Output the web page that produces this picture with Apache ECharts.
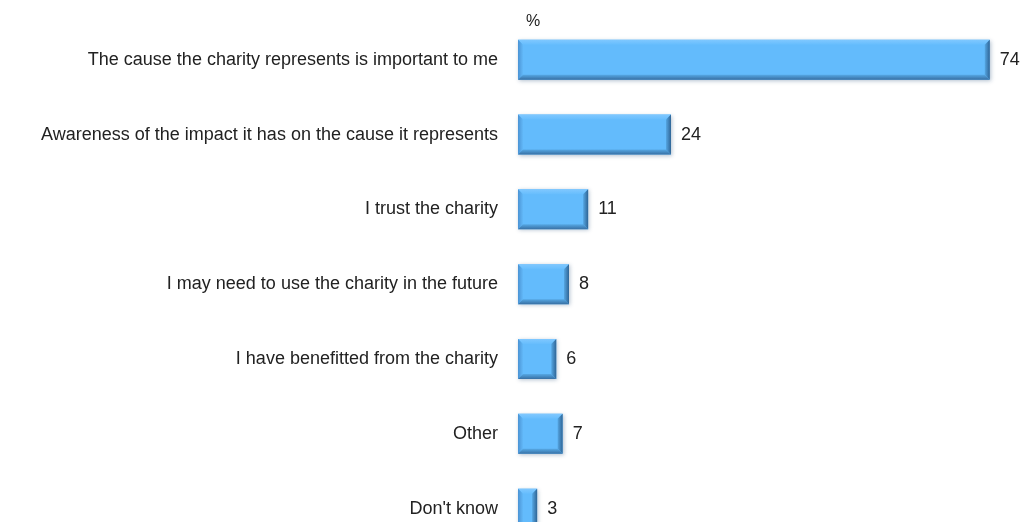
<!DOCTYPE html>
<html>
<head>
<meta charset="utf-8">
<style>
  html, body { margin: 0; padding: 0; background: #ffffff; }
  #chart { width: 1020px; height: 522px; }
</style>
<script src="https://cdn.jsdelivr.net/npm/echarts@6/dist/echarts.min.js"></script>
</head>
<body>
<div id="chart"></div>
<script>
// Reasons for supporting a charity (% of respondents)
var categories = [
  'The cause the charity represents is important to me',
  'Awareness of the impact it has on the cause it represents',
  'I trust the charity',
  'I may need to use the charity in the future',
  'I have benefitted from the charity',
  'Other',
  "Don't know"
];
var values = [74, 24, 11, 8, 6, 7, 3];
var unitLabel = '%';

var FONT = '"Liberation Sans", Arial, Helvetica, sans-serif';
var FILL = '#63bbfc';

// Bevelled bar: flat face plus four edge facets
function renderBevelBar(params, api) {
  var idx = api.value(0);
  var val = api.value(1);
  var start = api.coord([0, idx]);
  var end = api.coord([val, idx]);
  var h = 40;
  var x0 = start[0], x1 = end[0];
  var y0 = end[1] - h / 2, y1 = end[1] + h / 2;
  var w = x1 - x0;
  var b = Math.min(5, w / 2, h / 2);

  function grad(x, y, x2, y2, c0, c1) {
    return new echarts.graphic.LinearGradient(x, y, x2, y2, [
      { offset: 0, color: c0 }, { offset: 1, color: c1 }
    ]);
  }

  return {
    type: 'group',
    children: [
      {
        type: 'rect',
        shape: { x: x0, y: y0, width: w, height: h },
        style: {
          fill: FILL,
          shadowBlur: 4,
          shadowColor: 'rgba(40,80,120,0.35)',
          shadowOffsetX: 1,
          shadowOffsetY: 1
        }
      },
      {
        // top facet
        type: 'polygon',
        shape: { points: [[x0, y0], [x1, y0], [x1 - b, y0 + b], [x0 + b, y0 + b]] },
        style: { fill: grad(0, 0, 0, 1, '#80c8ff', '#66bdfd') }
      },
      {
        // left facet
        type: 'polygon',
        shape: { points: [[x0, y0], [x0 + b, y0 + b], [x0 + b, y1 - b], [x0, y1]] },
        style: { fill: grad(0, 0, 1, 0, '#4a93d4', '#62b8f8') }
      },
      {
        // bottom facet
        type: 'polygon',
        shape: { points: [[x0, y1], [x0 + b, y1 - b], [x1 - b, y1 - b], [x1, y1]] },
        style: { fill: grad(0, 0, 0, 1, '#56a8e4', '#376fa3') }
      },
      {
        // right facet
        type: 'polygon',
        shape: { points: [[x1, y0], [x1, y1], [x1 - b, y1 - b], [x1 - b, y0 + b]] },
        style: { fill: grad(0, 0, 1, 0, '#55a6e2', '#2f6596') }
      },
      {
        type: 'text',
        style: {
          x: x1 + 10,
          y: end[1],
          text: String(val),
          fill: '#222222',
          font: '18px ' + FONT,
          verticalAlign: 'middle',
          align: 'left'
        }
      }
    ]
  };
}

var chart = echarts.init(document.getElementById('chart'), null, { renderer: 'canvas' });

chart.setOption({
  backgroundColor: '#ffffff',
  animation: false,
  title: {
    text: unitLabel,
    left: 521,
    top: 9,
    textStyle: { fontSize: 16, fontWeight: 'normal', color: '#222222', fontFamily: FONT }
  },
  grid: {
    left: 518,
    top: 22.3,
    width: 510,
    height: 523.8,
    containLabel: false,
    outerBoundsMode: 'none'
  },
  xAxis: {
    type: 'value',
    min: 0,
    max: 80,
    show: false
  },
  yAxis: {
    type: 'category',
    data: categories,
    inverse: true,
    axisLine: { show: false },
    axisTick: { show: false },
    splitLine: { show: false },
    axisLabel: {
      margin: 20,
      fontSize: 18,
      color: '#222222',
      fontFamily: FONT
    }
  },
  series: [
    {
      type: 'custom',
      clip: false,
      renderItem: renderBevelBar,
      encode: { x: 1, y: 0 },
      data: values.map(function (v, i) { return [i, v]; })
    }
  ]
});
</script>
</body>
</html>
